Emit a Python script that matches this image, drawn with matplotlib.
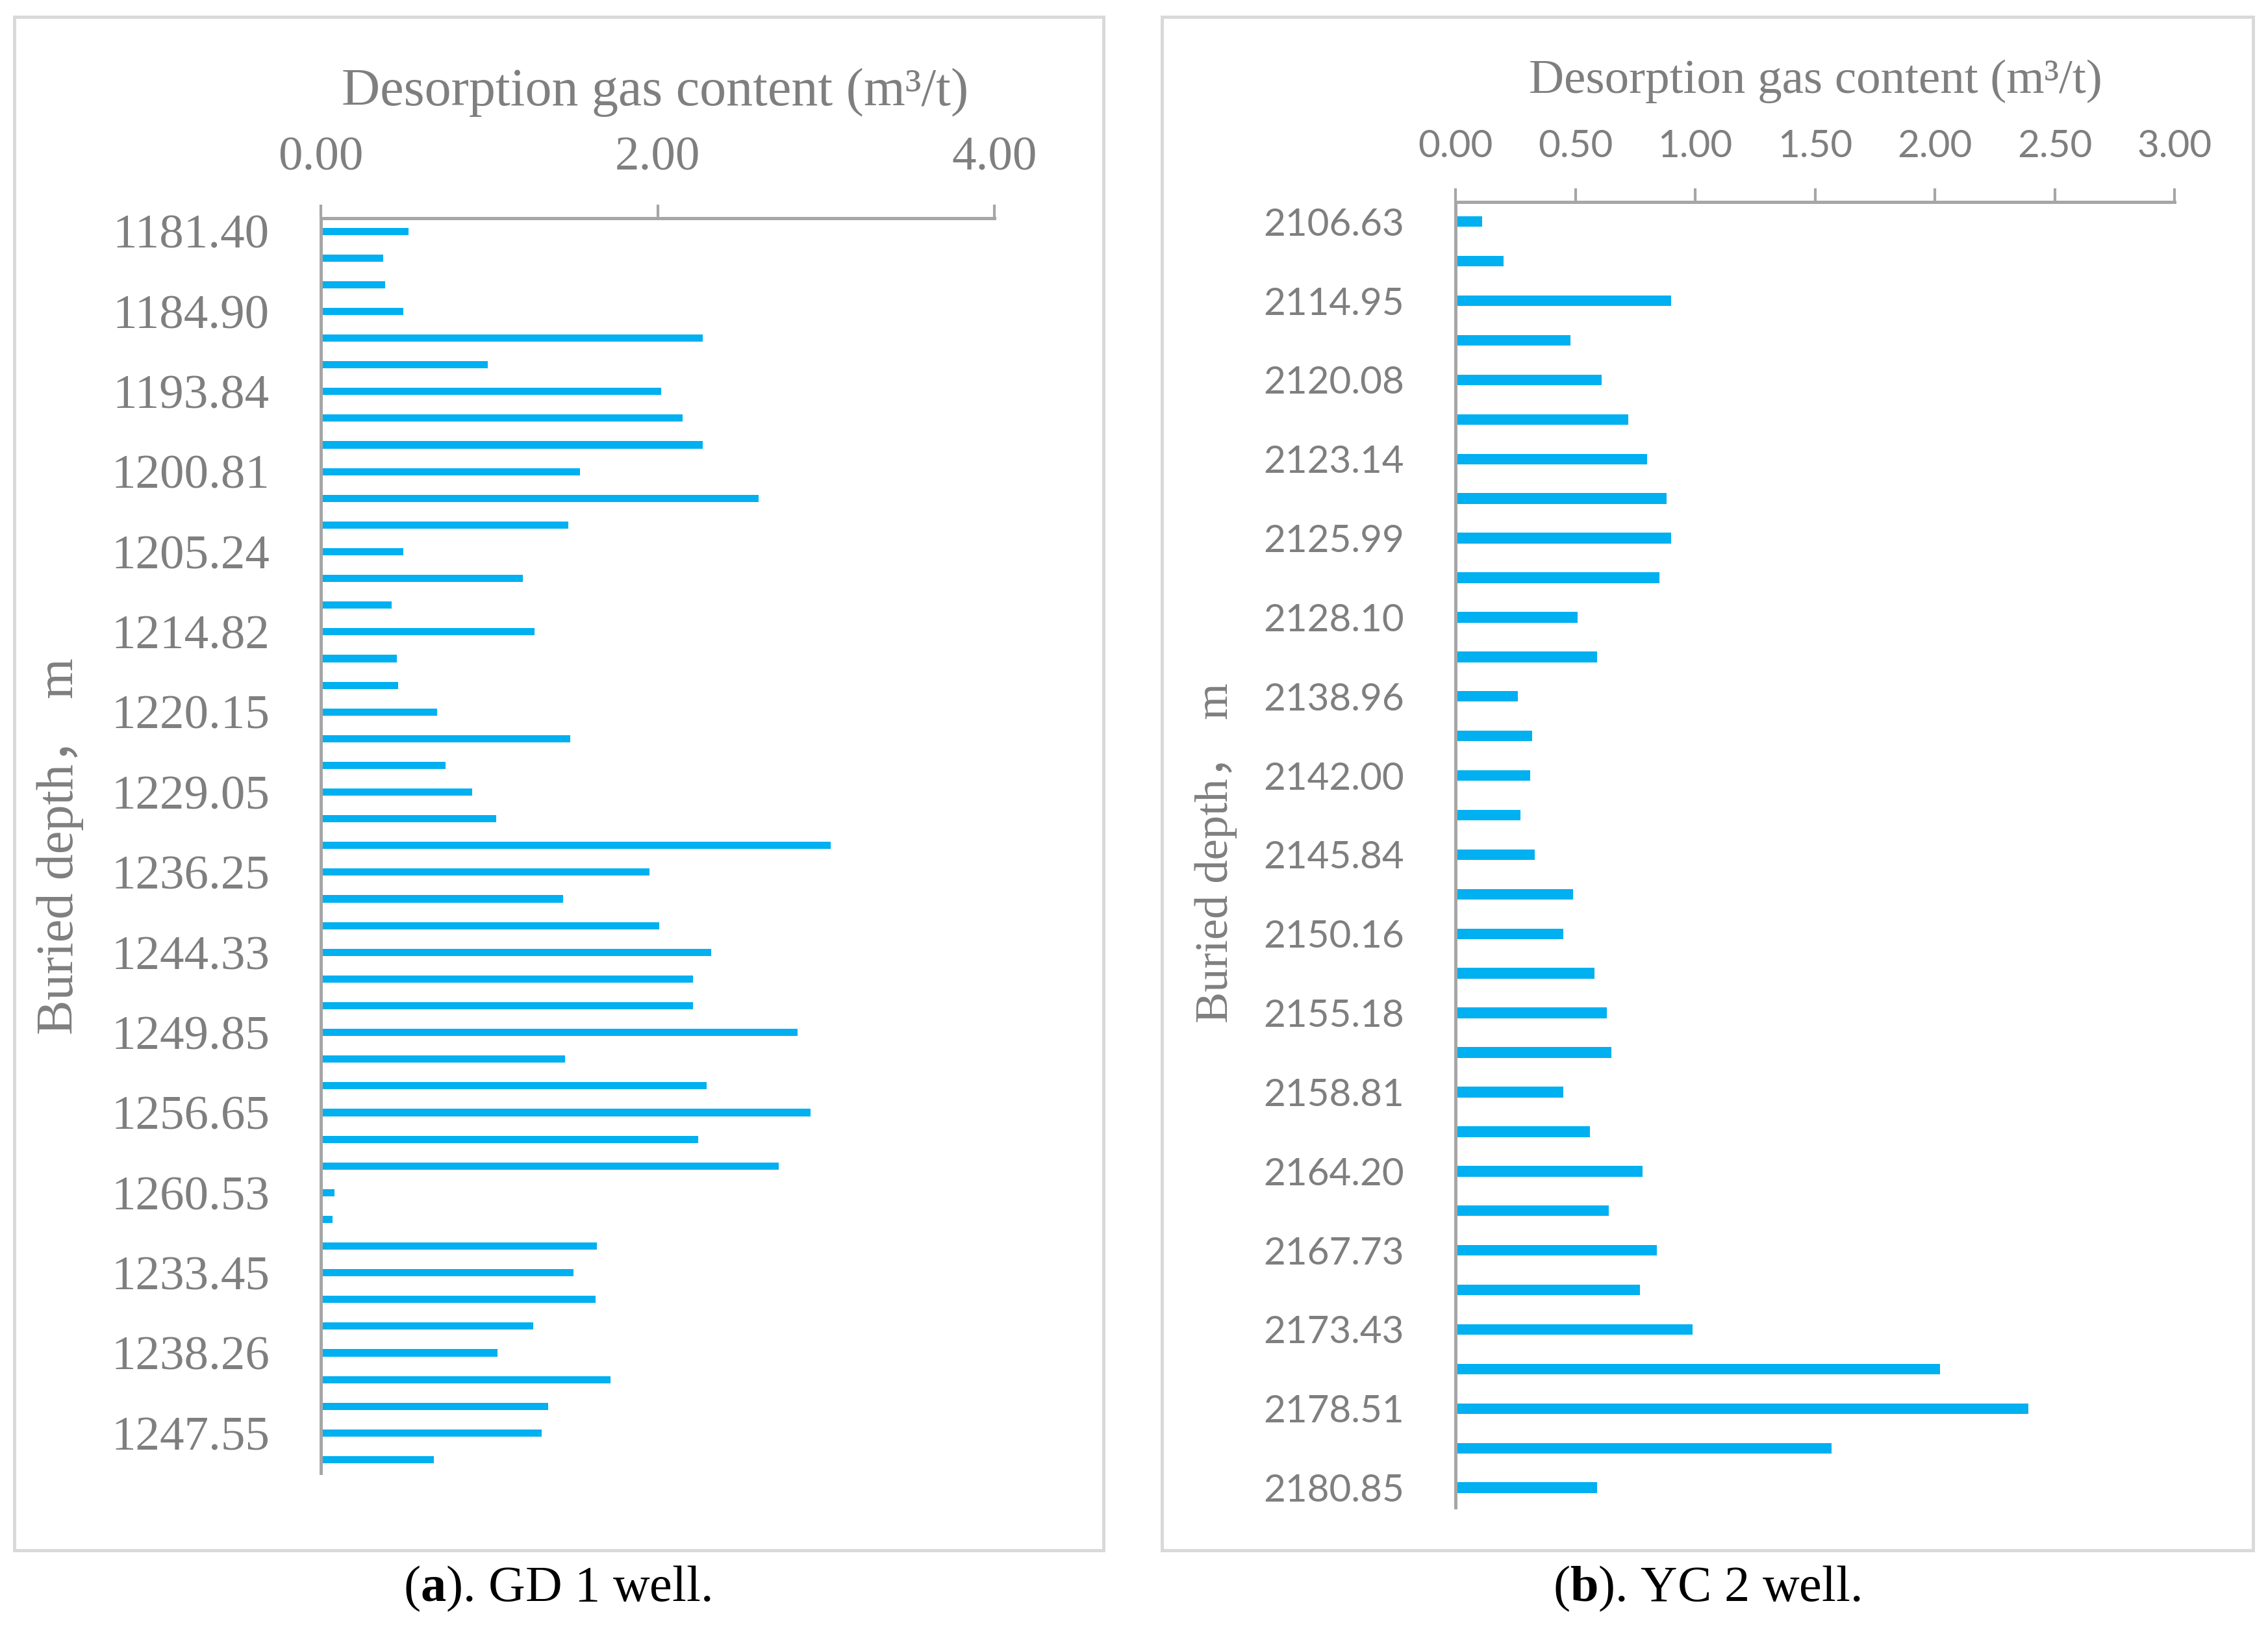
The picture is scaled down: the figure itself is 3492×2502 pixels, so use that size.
import matplotlib.pyplot as plt
from matplotlib.patches import Rectangle

# GD 1 well (panel a): depth labels shown every 3rd bar
gd1_labels = ['1181.40', '1184.90', '1193.84', '1200.81', '1205.24', '1214.82',
              '1220.15', '1229.05', '1236.25', '1244.33', '1249.85', '1256.65',
              '1260.53', '1233.45', '1238.26', '1247.55']
gd1_gas = [0.52, 0.37, 0.38, 0.49, 2.27, 0.99, 2.02, 2.15, 2.27, 1.54,
           2.60, 1.47, 0.49, 1.20, 0.42, 1.27, 0.45, 0.46, 0.69, 1.48,
           0.74, 0.90, 1.04, 3.03, 1.95, 1.44, 2.01, 2.32, 2.21, 2.21,
           2.83, 1.45, 2.29, 2.91, 2.24, 2.72, 0.08, 0.07, 1.64, 1.50,
           1.63, 1.26, 1.05, 1.72, 1.35, 1.31, 0.67]

# YC 2 well (panel b): depth labels shown every 2nd bar
yc2_labels = ['2106.63', '2114.95', '2120.08', '2123.14', '2125.99', '2128.10',
              '2138.96', '2142.00', '2145.84', '2150.16', '2155.18', '2158.81',
              '2164.20', '2167.73', '2173.43', '2178.51', '2180.85']
yc2_gas = [0.11, 0.20, 0.90, 0.48, 0.61, 0.72, 0.80, 0.88, 0.90, 0.85,
           0.51, 0.59, 0.26, 0.32, 0.31, 0.27, 0.33, 0.49, 0.45, 0.58,
           0.63, 0.65, 0.45, 0.56, 0.78, 0.64, 0.84, 0.77, 0.99, 2.02,
           2.39, 1.57, 0.59]

bar_color = '#00B0F0'
axis_color = '#A6A6A6'
text_color = '#7F7F7F'
border_color = '#D9D9D9'
serif = 'Liberation Serif'

plt.rcParams['mathtext.fontset'] = 'custom'
plt.rcParams['mathtext.rm'] = serif
plt.rcParams['mathtext.bf'] = serif + ':bold'

fig = plt.figure(figsize=(11.64, 8.34), dpi=300)

# panel frames
for x0, x1 in [(0.0063, 0.4865), (0.5123, 0.9934)]:
    fig.patches.append(Rectangle((x0, 0.046), x1 - x0, 0.9896 - 0.046,
                                 transform=fig.transFigure, fill=False,
                                 edgecolor=border_color, linewidth=1.2))


def style_axes(ax, xmax, xstep, tick_font, tick_size):
    ax.set_xlim(0, xmax)
    ax.set_xticks([i * xstep for i in range(int(round(xmax / xstep)) + 1)])
    ax.xaxis.set_major_formatter(plt.FormatStrFormatter('%.2f'))
    ax.xaxis.tick_top()
    ax.tick_params(axis='x', direction='out', length=5, width=1.0,
                   color=axis_color, labelcolor=text_color, pad=9)
    ax.tick_params(axis='y', length=0, labelcolor=text_color, pad=19)
    for lab in ax.get_xticklabels() + ax.get_yticklabels():
        lab.set_family(tick_font)
        lab.set_fontsize(tick_size)
    for side in ['right', 'bottom']:
        ax.spines[side].set_visible(False)
    for side in ['left', 'top']:
        ax.spines[side].set_color(axis_color)
        ax.spines[side].set_linewidth(1.2)


# (a) GD 1 well
ax1 = fig.add_axes([0.1415, 0.0935, 0.4384 - 0.1415, 0.8659 - 0.0935])
pos1 = list(range(len(gd1_gas)))
ax1.barh(pos1, gd1_gas, height=0.27, color=bar_color)
ax1.set_ylim(len(gd1_gas) - 0.5, -0.5)
ax1.set_yticks(pos1[::3])
ax1.set_yticklabels(gd1_labels)
style_axes(ax1, 4.0, 2.0, serif, 18)

# (b) YC 2 well
ax2 = fig.add_axes([0.6418, 0.0723, 0.9588 - 0.6418, 0.8758 - 0.0723])
pos2 = list(range(len(yc2_gas)))
ax2.barh(pos2, yc2_gas, height=0.27, color=bar_color)
ax2.set_ylim(len(yc2_gas) - 0.5, -0.5)
ax2.set_yticks(pos2[::2])
ax2.set_yticklabels(yc2_labels)
style_axes(ax2, 3.0, 0.5, 'Lato', 14)

# axis titles
fig.text(0.2889, 0.9430, 'Desorption gas content (m\u00b3/t)', ha='center',
         va='center', fontsize=19.7, color=text_color, family=serif)
fig.text(0.8004, 0.9500, 'Desorption gas content (m\u00b3/t)', ha='center',
         va='center', fontsize=18, color=text_color, family=serif)
fig.text(0.0265, 0.479, 'Buried depth\uff0c m', rotation=90, ha='center',
         va='center', fontsize=19.3, color=text_color,
         family=[serif, 'Noto Sans CJK SC'])
fig.text(0.5362, 0.475, 'Buried depth\uff0c m', rotation=90, ha='center',
         va='center', fontsize=17.4, color=text_color,
         family=[serif, 'Noto Sans CJK SC'])

# captions
fig.text(0.2455, 0.0222, r'($\mathbf{a}$). GD 1 well.', ha='center',
         va='center', fontsize=18.8, color='black', family=serif)
fig.text(0.7526, 0.0222, r'($\mathbf{b}$). YC 2 well.', ha='center',
         va='center', fontsize=18.8, color='black', family=serif)

fig.savefig('out.png', dpi=300)
